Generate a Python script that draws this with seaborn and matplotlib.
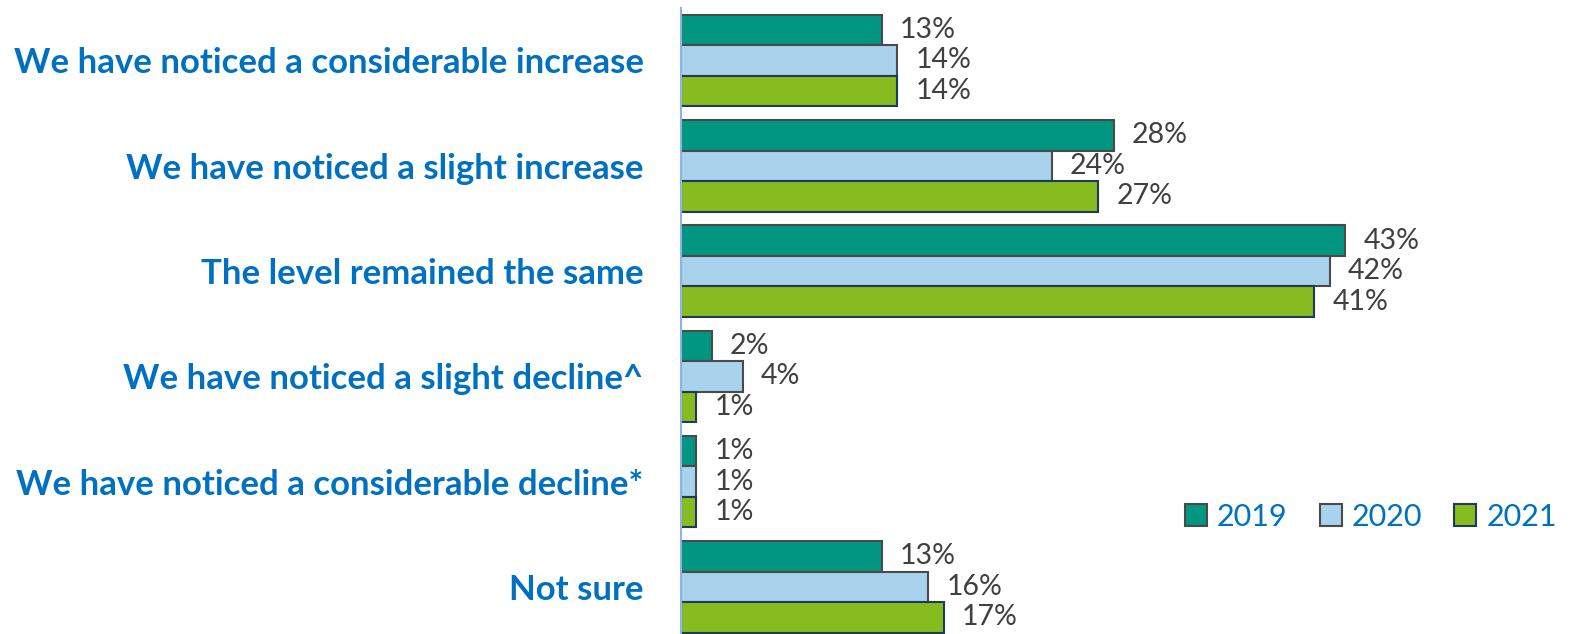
import pandas as pd
import numpy as np
import matplotlib.pyplot as plt
import seaborn as sns

categories = ['We have noticed a considerable increase',
              'We have noticed a slight increase',
              'The level remained the same',
              'We have noticed a slight decline^',
              'We have noticed a considerable decline*',
              'Not sure']
years = ['2019', '2020', '2021']
v2019 = [13, 28, 43, 2, 1, 13]
v2020 = [14, 24, 42, 4, 1, 16]
v2021 = [14, 27, 41, 1, 1, 17]

colors = ['#009681', '#A9D3EC', '#86BC20']
edges = ['#4a4a4a', '#4a4a4a', '#1f3b5c']

df = pd.DataFrame({'cat': categories * 3,
                   'year': np.repeat(years, len(categories)),
                   'val': v2019 + v2020 + v2021})

sns.set_style('white')
plt.rcParams['font.family'] = ['Lato', 'DejaVu Sans']

W, H = 1572, 634
fig = plt.figure(figsize=(W / 100, H / 100), dpi=100)
# axes spans y 7.85 .. 639.6 px from top
ax = fig.add_axes([681 / W, 1 - 639.6 / H, (W - 681) / W, (639.6 - 7.85) / H])

sns.barplot(data=df, y='cat', x='val', hue='year', orient='h', ax=ax,
            palette=colors, width=0.869, linewidth=1.5, edgecolor='#4a4a4a',
            saturation=1, legend=True)

# edge colour per year
for cont, ec in zip(ax.containers, edges):
    for p in cont:
        p.set_edgecolor(ec)
    ax.bar_label(cont, labels=[f'{int(round(w.get_width()))}%' for w in cont],
                 padding=13, fontsize=20.5, color='#404040')

ax.set_xlim(0, (W - 681) / 15.45)
ax.set_ylim(5.5, -0.5)
ax.set_xlabel('')
ax.set_ylabel('')
ax.set_xticks([])
ax.tick_params(axis='y', length=0, pad=27)
for lab in ax.get_yticklabels():
    lab.set_fontweight('bold')
    lab.set_color('#0070C0')
    lab.set_fontsize(25)

for s in ['top', 'right', 'bottom']:
    ax.spines[s].set_visible(False)
ax.spines['left'].set_color('#8FB4E3')
ax.spines['left'].set_linewidth(1.5)

handles, labels = ax.get_legend_handles_labels()
for h, ec in zip(handles, edges):
    h.set_edgecolor(ec)
ax.legend(handles, labels, loc='center right',
          bbox_to_anchor=(1557 / W, 1 - 517 / H), bbox_transform=fig.transFigure,
          ncol=3, frameon=False, fontsize=22, labelcolor='#0070C0',
          handlelength=0.72, handleheight=0.72, handletextpad=0.33,
          columnspacing=1.05, borderpad=0, borderaxespad=0)

fig.savefig('out.png', dpi=100)
